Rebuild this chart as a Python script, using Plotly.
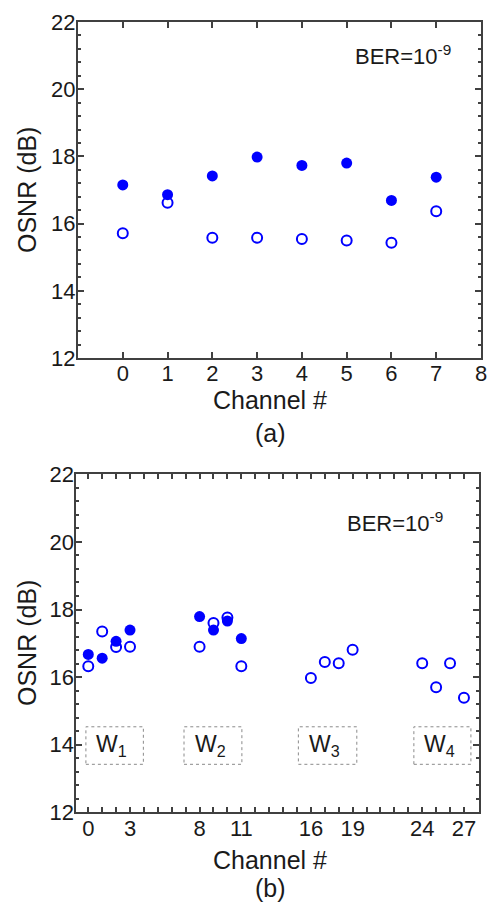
import plotly.graph_objects as go

# Panel (a): 8 channels
ch_a = [0, 1, 2, 3, 4, 5, 6, 7]
osnr_a_filled = [17.15, 16.86, 17.42, 17.98, 17.73, 17.80, 16.69, 17.38]
osnr_a_open = [15.71, 16.62, 15.58, 15.58, 15.54, 15.50, 15.43, 16.37]

# Panel (b): four wavebands
ch_b_filled = [0, 1, 2, 3, 8, 9, 10, 11]
osnr_b_filled = [16.67, 16.56, 17.06, 17.39, 17.79, 17.39, 17.66, 17.14]
ch_b_open = [0, 1, 2, 3, 8, 9, 10, 11, 16, 17, 18, 19, 24, 25, 26, 27]
osnr_b_open = [16.32, 17.35, 16.89, 16.90, 16.90, 17.60, 17.76, 16.32,
               15.97, 16.45, 16.41, 16.81, 16.41, 15.70, 16.41, 15.39]

b_ticks = [0, 3, 8, 11, 16, 19, 24, 27]
y_ticks = [12, 14, 16, 18, 20, 22]
band_labels = ["W<sub>1</sub>", "W<sub>2</sub>", "W<sub>3</sub>", "W<sub>4</sub>"]
band_x0 = [-0.17, 6.88, 15.1, 23.4]
band_x1 = [3.96, 11.04, 19.3, 27.5]
band_y = (13.42, 14.53)

BLUE = "#0000FF"
AXIS = "#404040"
TXT = "#1a1a1a"
FONT = "Liberation Sans, Arial, sans-serif"

fig = go.Figure()

def filled(x, y, xa, ya):
    return go.Scatter(x=x, y=y, mode="markers", xaxis=xa, yaxis=ya,
                      marker=dict(symbol="circle", size=11, color=BLUE,
                                  line=dict(width=0)), showlegend=False)

def hollow(x, y, xa, ya):
    return go.Scatter(x=x, y=y, mode="markers", xaxis=xa, yaxis=ya,
                      marker=dict(symbol="circle-open", size=10, color=BLUE,
                                  line=dict(width=2, color=BLUE)), showlegend=False)

fig.add_trace(hollow(ch_a, osnr_a_open, "x", "y"))
fig.add_trace(filled(ch_a, osnr_a_filled, "x", "y"))
fig.add_trace(hollow(ch_b_open, osnr_b_open, "x2", "y2"))
fig.add_trace(filled(ch_b_filled, osnr_b_filled, "x2", "y2"))

# empty traces that bind the mirrored tick axes (right / top sides)
for xa, ya in (("x", "y3"), ("x2", "y4"), ("x3", "y2")):
    fig.add_trace(go.Scatter(x=[None], y=[None], xaxis=xa, yaxis=ya,
                             mode="markers", showlegend=False, hoverinfo="skip"))

H = 903.0
W = 488.0

tick_font = dict(family=FONT, size=22, color=TXT)
common_axis = dict(showline=True, linecolor=AXIS, linewidth=2, mirror="ticks",
                   ticks="inside", tickcolor=AXIS, tickwidth=1.5, showgrid=False,
                   zeroline=False, tickfont=tick_font, automargin=False)

y_minor = dict(dtick=0.4, tick0=12, ticks="inside", ticklen=3,
               tickcolor=AXIS, tickwidth=1.5, showgrid=False)
yaxis_common = dict(common_axis, range=[12, 22], tickvals=y_ticks, ticklen=6,
                    ticklabelstandoff=-4, minor=y_minor)

x_minor = dict(dtick=1, tick0=0, ticks="inside", ticklen=5,
               tickcolor=AXIS, tickwidth=1.5, showgrid=False)

dom_a_y = [1 - 358 / H, 1 - 22 / H]
dom_b_y = [1 - 812.3 / H, 1 - 474.3 / H]
dom_b_x = [76.3 / W, 478.7 / W]

mirror_y = dict(range=[12, 22], tickvals=y_ticks, ticks="inside", ticklen=6,
                tickcolor=AXIS, tickwidth=1.5, showticklabels=False,
                showline=False, showgrid=False, zeroline=False, side="right",
                automargin=False, minor=y_minor)

fig.update_layout(
    width=488, height=903,
    margin=dict(l=0, r=0, t=0, b=0, autoexpand=False),
    paper_bgcolor="white", plot_bgcolor="white",
    xaxis=dict(common_axis, domain=[78 / W, 481 / W], anchor="y",
               range=[-1, 8], tickvals=list(range(0, 9)), ticklen=6,
               ticklabelstandoff=-5),
    yaxis=dict(yaxis_common, domain=dom_a_y, anchor="x"),
    xaxis2=dict(common_axis, domain=dom_b_x, anchor="y2",
                range=[-0.86, 28.06], tickvals=b_ticks, ticklen=5,
                ticklabelstandoff=-5, minor=x_minor),
    yaxis2=dict(yaxis_common, domain=dom_b_y, anchor="x2"),
    yaxis3=dict(mirror_y, overlaying="y", anchor="x"),
    yaxis4=dict(mirror_y, overlaying="y2", anchor="x2"),
    xaxis3=dict(overlaying="x2", anchor="y2", side="top", range=[-0.86, 28.06],
                tickvals=b_ticks, ticks="inside", ticklen=5, tickcolor=AXIS,
                tickwidth=1.5, showticklabels=False, showline=False,
                showgrid=False, zeroline=False, automargin=False, minor=x_minor),
)

ann = []
# axis titles and panel captions
for yc in (190, 643):
    ann.append(dict(text="OSNR (dB)", xref="paper", yref="paper",
                    x=27 / W, y=1 - yc / H, textangle=-90, showarrow=False,
                    xanchor="center", yanchor="middle",
                    font=dict(family=FONT, size=25, color=TXT)))
for yc, txt in ((400, "Channel #"), (433, "(a)"), (860, "Channel #"), (888, "(b)")):
    ann.append(dict(text=txt, xref="paper", yref="paper", x=270 / W, y=1 - yc / H,
                    xanchor="center", yanchor="middle", showarrow=False,
                    font=dict(family=FONT, size=25, color=TXT)))

# BER labels
ann.append(dict(text="BER=10<sup>-9</sup>", xref="x domain", yref="y domain",
                x=0.682, y=0.902, xanchor="left", yanchor="middle", showarrow=False,
                font=dict(family=FONT, size=22, color=TXT)))
ann.append(dict(text="BER=10<sup>-9</sup>", xref="x2 domain", yref="y2 domain",
                x=0.668, y=0.86, xanchor="left", yanchor="middle", showarrow=False,
                font=dict(family=FONT, size=22, color=TXT)))

# waveband boxes
shapes = []
for lbl, x0, x1 in zip(band_labels, band_x0, band_x1):
    shapes.append(dict(type="rect", xref="x2", yref="y2", x0=x0, x1=x1,
                       y0=band_y[0], y1=band_y[1],
                       line=dict(color="#8a8a8a", width=1, dash="dot"),
                       fillcolor="rgba(0,0,0,0)"))
    ann.append(dict(text=lbl, xref="x2", yref="y2", x=(x0 + x1) / 2 - 0.2,
                    y=sum(band_y) / 2, showarrow=False,
                    xanchor="center", yanchor="middle",
                    font=dict(family=FONT, size=23, color=TXT)))

fig.update_layout(annotations=ann, shapes=shapes)

fig.write_html("out.html")
